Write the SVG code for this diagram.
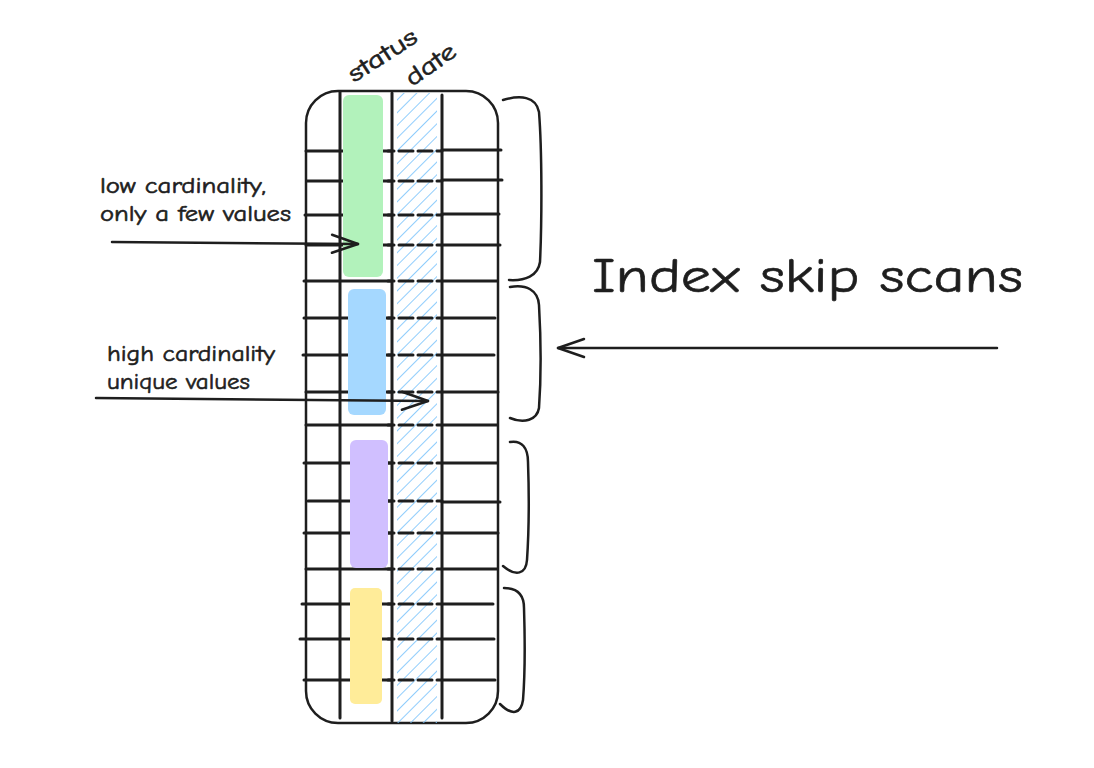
<svg xmlns="http://www.w3.org/2000/svg" width="1094" height="768" viewBox="0 0 1094 768">
<style>
.s{fill:none;stroke:#1e1e1e;stroke-linecap:round;stroke-linejoin:round}
.row{stroke-width:3}
.dash{stroke-width:3;stroke-dasharray:6 5 14 5 14 5}
.v{stroke-width:3}
.t{font-family:"Comic Neue","Liberation Sans","DejaVu Sans",sans-serif;fill:#1e1e1e;stroke:#1e1e1e;stroke-width:0.6}
</style>
<defs>
<pattern id="hatch" patternUnits="userSpaceOnUse" width="9" height="9" patternTransform="rotate(45)">
<line x1="0" y1="0" x2="0" y2="9" stroke="#74c0fc" stroke-width="1.6"/>
</pattern>
<marker id="ah" markerWidth="30" markerHeight="30" refX="28" refY="15" orient="auto" markerUnits="userSpaceOnUse">
<path d="M2 6 L28 15 L2 24" fill="none" stroke="#1e1e1e" stroke-width="2.5" stroke-linecap="round" stroke-linejoin="round"/>
</marker>
</defs>
<rect width="1094" height="768" fill="#ffffff"/>

<g id="table">
<rect x="306" y="91" width="192" height="632" rx="32" class="s" stroke-width="2.5"/>
<rect x="397" y="93" width="40" height="630" fill="url(#hatch)"/>
<g id="rows">
<path class="s row" d="M306 151H392M442 150H501M307 181H392M442 180H502M305 215H392M442 214H499M306 245H392M442 245H500M304 281H392M442 281H497M304 318H392M442 318H495M303 355H392M442 355H494M306 392H392M442 392H498M306 425H392M442 425H497M304 463H392M442 463H497M308 501H392M442 502H500M304 533H392M442 533H498M306 569H392M442 569H497M302 604H392M442 604H493M300 639H392M442 639H494M304 680H392M442 680H495"/>
<path class="s dash" d="M388 151H442M388 181H442M388 215H442M388 245H442M388 281H442M388 318H442M388 355H442M388 392H442M388 425H442M388 463H442M388 501H442M388 533H442M388 569H442M388 604H442M388 639H442M388 680H442"/>
</g>
<path class="s v" d="M340 92V718M392 93V721M442 95V718"/>
<rect id="green" x="343" y="95" width="40" height="182" rx="6" fill="#b2f2bb"/>
<rect id="blue" x="348" y="289" width="38" height="126" rx="6" fill="#a5d8ff"/>
<rect id="purple" x="350" y="440" width="38" height="128" rx="6" fill="#d0bfff"/>
<rect id="yellow" x="350" y="588" width="32" height="116" rx="5" fill="#ffec99"/>
</g>

<g id="headers">
<text class="t" font-size="24" transform="translate(354 83) rotate(-33)" textLength="78" lengthAdjust="spacingAndGlyphs">status</text>
<text class="t" font-size="24" transform="translate(412 87) rotate(-35)" textLength="56" lengthAdjust="spacingAndGlyphs">date</text>
</g>

<g id="braces">
<path class="s" stroke-width="2.5" d="M503 100C520 95 536 96 539 112C542 150 542 220 540 262C538 276 525 281 509 280"/>
<path class="s" stroke-width="2.5" d="M510 287C526 284 538 290 539 305C541 340 541 380 539 408C537 420 524 424 510 418"/>
<path class="s" stroke-width="2.5" d="M510 442C522 440 528 448 528 462C529 490 529 530 527 560C526 574 516 577 503 566"/>
<path class="s" stroke-width="2.5" d="M504 588C517 588 524 594 524 608C525 640 525 675 523 700C521 714 512 716 500 704"/>
</g>

<g id="labels">
<text class="t" font-size="23" x="100" y="193" textLength="166" lengthAdjust="spacingAndGlyphs">low cardinality,</text>
<text class="t" font-size="23" x="100" y="221" textLength="191" lengthAdjust="spacingAndGlyphs">only a few values</text>
<text class="t" font-size="23" x="107" y="361" textLength="168" lengthAdjust="spacingAndGlyphs">high cardinality</text>
<text class="t" font-size="23" x="107" y="389" textLength="143" lengthAdjust="spacingAndGlyphs">unique values</text>
<text class="t" font-size="48" x="592" y="292" textLength="431" lengthAdjust="spacingAndGlyphs" stroke-width="1.3">Index skip scans</text>
</g>

<g id="connectors">
<path class="s" stroke-width="2.5" d="M112 242L358 244" marker-end="url(#ah)"/>
<path class="s" stroke-width="2.5" d="M96 398L428 401" marker-end="url(#ah)"/>
<path class="s" stroke-width="2.5" d="M997 348L558 348" marker-end="url(#ah)"/>
</g>
</svg>
